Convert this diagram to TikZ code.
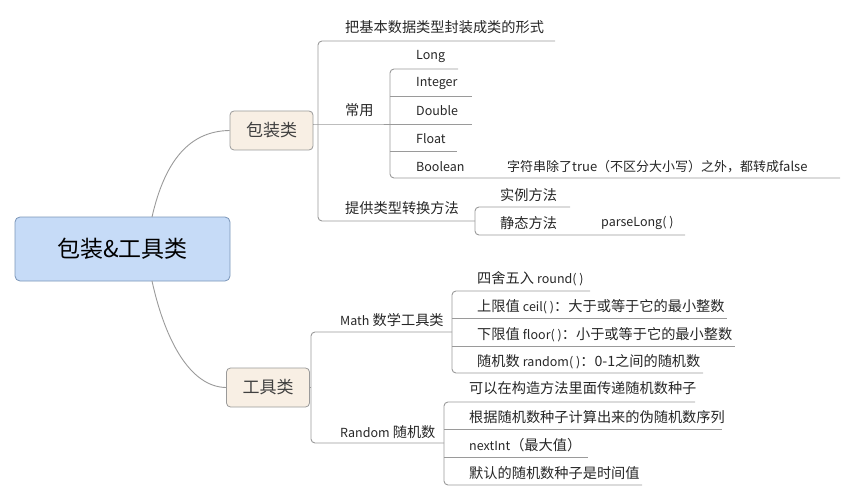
\documentclass[tikz,border=0pt]{standalone}
\usepackage{fontspec}
\setmainfont{Noto Sans CJK SC}
\usetikzlibrary{positioning}
\definecolor{rootfill}{HTML}{C6DBF7}
\definecolor{rootline}{HTML}{7A95B8}
\definecolor{topicfill}{HTML}{F8EFE4}
\definecolor{branchgray}{HTML}{9A9A9A}
\tikzset{
  rootbox/.style={draw=rootline, fill=rootfill, rounded corners=5pt, line width=0.8pt,
    minimum width=215pt, minimum height=64pt, font=\fontsize{23}{26}\selectfont},
  topicbox/.style={draw=branchgray, fill=topicfill, rounded corners=4pt, line width=0.8pt,
    minimum width=83pt, minimum height=39pt, font=\fontsize{17}{20}\selectfont, text=black!75},
  leaf/.style={anchor=west, inner sep=0pt, font=\fontsize{14.2}{16}\selectfont, text=black!85},
  small/.style={leaf, font=\fontsize{12.5}{14}\selectfont},
  branch/.style={draw=branchgray, line width=0.9pt, rounded corners=4pt},
}
\begin{document}
\begin{tikzpicture}[x=1pt, y=-1pt]
    \useasboundingbox (0,0) rectangle (857,500);

    % main topics
    \node[rootbox] (root) at (122.5,249) {包装\&工具类};
    \node[topicbox] (wrap) at (271.5,130.5) {包装类};
    \node[topicbox] (tool) at (268,387.5) {工具类};
    \draw[branch] (152,217) .. controls (165,160) and (190,131) .. (wrap.west);
    \draw[branch] (152,281) .. controls (165,340) and (190,387) .. (tool.west);

    % 包装类
    \node[leaf] (form) at (345,27) {把基本数据类型封装成类的形式};
    \node[leaf] (common) at (345,110) {常用};
    \node[leaf] (conv) at (345,208) {提供类型转换方法};
    \draw[branch] (wrap.east |- 0,124) -- (318,124) -- (common.east |- 0,124) -- (390,124);
    \draw[branch] (555,41) -- (318,41) -- (318,221) -- (475,221);

    % 常用
    \node[small] (long) at (416,56) {Long};
    \node[small] (int) at (416,83) {Integer};
    \node[small] (dbl) at (416,111) {Double};
    \node[small] (flt) at (416,139) {Float};
    \node[small] (bool) at (416,167) {Boolean};
    \node[leaf, font=\fontsize{13}{15}\selectfont] (boolnote) at (507,167) {字符串除了true（不区分大小写）之外，都转成false};
    \draw[branch] (458,69) -- (390,69) -- (390,178) -- (840,178);
    \foreach \y/\e in {96/472, 124/472, 151/457}
        \draw[branch, rounded corners=0pt] (390,\y) -- (\e,\y);

    % 类型转换
    \node[leaf] (inst) at (500,195) {实例方法};
    \node[leaf] (stat) at (500,223) {静态方法};
    \node[small] (parse) at (601,223) {parseLong( )};
    \draw[branch] (570,207) -- (475,207) -- (475,235) -- (685,235);

    % 工具类
    \node[leaf] (math) at (340,320) {{\fontsize{12.5}{14}\selectfont Math} 数学工具类};
    \node[leaf] (rand) at (340,432) {{\fontsize{12.5}{14}\selectfont Random} 随机数};
    \draw[branch] (tool.east |- 0,387) -- (311,387);
    \draw[branch] (452,332) -- (311,332) -- (311,443) -- (444,443);

    % Math
    \node[leaf] (round) at (477,279) {四舍五入 {\fontsize{12.5}{14}\selectfont round( )}};
    \node[leaf] (ceil) at (477,307) {上限值 {\fontsize{12.5}{14}\selectfont ceil( )}：大于或等于它的最小整数};
    \node[leaf] (floor) at (477,335) {下限值 {\fontsize{12.5}{14}\selectfont floor( )}：小于或等于它的最小整数};
    \node[leaf] (rnd) at (477,362) {随机数 {\fontsize{12.5}{14}\selectfont random( )}：0-1之间的随机数};
    \draw[branch] (590,291) -- (452,291) -- (452,373) -- (703,373);
    \draw[branch, rounded corners=0pt] (452,318) -- (727,318);
    \draw[branch, rounded corners=0pt] (452,346) -- (735,346);

    % Random
    \node[leaf] (seed) at (469,388) {可以在构造方法里面传递随机数种子};
    \node[leaf] (pseudo) at (469,417) {根据随机数种子计算出来的伪随机数序列};
    \node[leaf] (next) at (469,445) {{\fontsize{12.5}{14}\selectfont nextInt}（最大值）};
    \node[leaf] (default) at (469,473) {默认的随机数种子是时间值};
    \draw[branch] (695,402) -- (444,402) -- (444,485) -- (642,485);
    \draw[branch, rounded corners=0pt] (444,429) -- (722,429);
    \draw[branch, rounded corners=0pt] (444,457) -- (588,457);
\end{tikzpicture}
\end{document}
